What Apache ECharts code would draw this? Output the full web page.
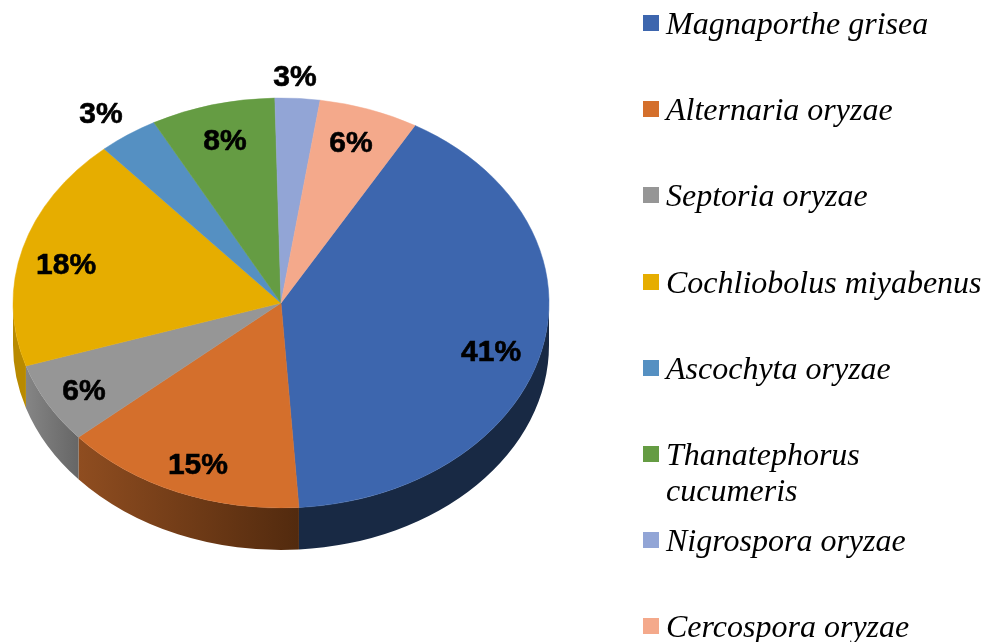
<!DOCTYPE html>
<html>
<head>
<meta charset="utf-8">
<style>
html, body { margin: 0; padding: 0; background: #fff; }
#chart { width: 984px; height: 642px; }
</style>
<script src="https://cdn.jsdelivr.net/npm/echarts@6/dist/echarts.min.js"></script>
</head>
<body>
<div id="chart"></div>
<script>
// pathogen share, slice sizes
var names = ['Magnaporthe grisea', 'Alternaria oryzae', 'Septoria oryzae', 'Cochliobolus miyabenus',
    'Ascochyta oryzae', 'Thanatephorus cucumeris', 'Nigrospora oryzae', 'Cercospora oryzae'];
var values = [40.6, 14.7, 6.4, 18.5, 3.6, 7.5, 2.7, 6.0];
var labels = ['41%', '15%', '6%', '18%', '3%', '8%', '3%', '6%'];
var colors = ['#3d66ae', '#d46f2c', '#969696', '#e6ad00', '#5590c2', '#659c43', '#92a5d6', '#f4a98b'];
var wallColors = [['#182944', '#182944'], ['#8f4d20', '#522a0e'], ['#858585', '#666666'], ['#b88a00', '#b88a00'],
    null, null, null, null];

// label position as a fraction of the radii, from the pie centre
var labelFrac = [[0.784, 0.242], [-0.31, 0.795], [-0.735, 0.435], [-0.802, -0.18],
    [-0.672, -0.917], [-0.209, -0.785], [0.052, -1.097], [0.261, -0.775]];
var legendRows = [24, 110, 196, 283, 369, 455, 541, 627];

var cx = 281, cy = 303, rx = 268, ry = 205, depth = 42;
var startDeg = 30;
var total = values.reduce(function (a, b) { return a + b; }, 0);

function pt(deg, dy) {
    var a = deg * Math.PI / 180;
    return (cx + rx * Math.sin(a)).toFixed(2) + ' ' + (cy - ry * Math.cos(a) + (dy || 0)).toFixed(2);
}

function sectorPath(a0, a1) {
    var large = a1 - a0 > 180 ? 1 : 0;
    return 'M' + cx + ' ' + cy + 'L' + pt(a0) + 'A' + rx + ' ' + ry + ' 0 ' + large + ' 1 ' + pt(a1) + 'Z';
}

// side wall, only the front half (90-270 deg) can be seen
function wallPath(a0, a1) {
    var s = Math.max(a0, 90), e = Math.min(a1, 270);
    return 'M' + pt(s) + 'A' + rx + ' ' + ry + ' 0 0 1 ' + pt(e) + 'L' + pt(e, depth) +
        'A' + rx + ' ' + ry + ' 0 0 0 ' + pt(s, depth) + 'Z';
}

var angle = startDeg;
var series = values.map(function (v, i) {
    var a0 = angle;
    var a1 = a0 + v / total * 360;
    angle = a1;
    return {
        type: 'custom',
        name: names[i],
        coordinateSystem: 'none',
        silent: true,
        itemStyle: { color: colors[i] },
        data: [[v]],
        renderItem: function () {
            var children = [];
            if (wallColors[i] && a1 > 90 && a0 < 270) {
                children.push({
                    type: 'path',
                    shape: { pathData: wallPath(a0, a1) },
                    style: {
                        fill: {
                            type: 'linear', x: 0, y: 0, x2: 1, y2: 0,
                            colorStops: [
                                { offset: 0, color: wallColors[i][0] },
                                { offset: 1, color: wallColors[i][1] }
                            ]
                        }
                    }
                });
            }
            children.push({
                type: 'path',
                shape: { pathData: sectorPath(a0, a1) },
                style: { fill: colors[i], stroke: colors[i], lineWidth: 0.5 }
            });
            children.push({
                type: 'text',
                z2: 10,
                style: {
                    text: labels[i],
                    x: cx + labelFrac[i][0] * rx,
                    y: cy + labelFrac[i][1] * ry,
                    align: 'center',
                    verticalAlign: 'middle',
                    font: 'bold 30px "Liberation Sans"',
                    fill: '#000',
                    stroke: '#000',
                    lineWidth: 0.6
                }
            });
            return { type: 'group', children: children };
        }
    };
});

// every row has its own legend, the rows are not evenly spaced in the original
// the empty subpath in the icon lifts the square a little above the text centre
var legends = names.map(function (n, i) {
    return {
        data: [n],
        left: 643,
        top: legendRows[i] - 16,
        padding: 0,
        icon: 'path://M0 0H16V16H0ZM0 22L0 22',
        itemWidth: 16,
        itemHeight: 22,
        selectedMode: false,
        formatter: function (name) {
            return name.indexOf('Thanatephorus') === 0 ? name.split(' ')[0] : name;
        },
        textStyle: {
            fontFamily: 'Liberation Serif',
            fontStyle: 'italic',
            fontSize: 32,
            lineHeight: 36,
            color: '#000',
            padding: [0, 0, 0, 2]
        }
    };
});

var chart = echarts.init(document.getElementById('chart'));
chart.setOption({
    backgroundColor: '#fff',
    animation: false,
    legend: legends,
    series: series,
    graphic: [{
        type: 'text',
        left: 666,
        top: legendRows[5] + 22,
        style: {
            text: names[5].split(' ')[1],
            font: 'italic 32px "Liberation Serif"',
            fill: '#000'
        }
    }]
});
</script>
</body>
</html>
